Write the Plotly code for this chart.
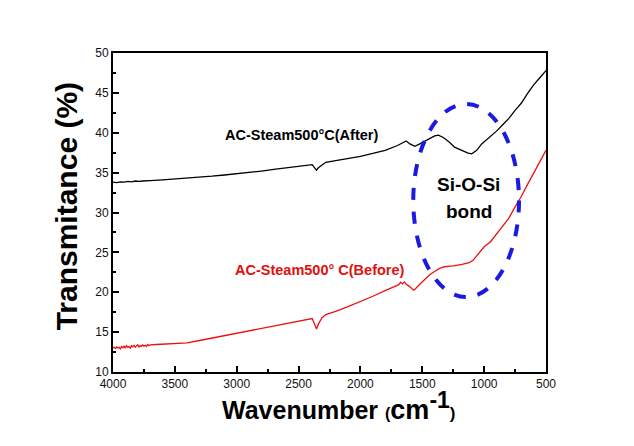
import plotly.graph_objects as go

# ---- data ----
wn_after = [4000, 3970, 3940, 3910, 3880, 3850, 3820, 3790, 3760, 3730, 3700, 3600, 3500, 3400, 3300,
            3200, 3100, 3000, 2900, 2800, 2700, 2600, 2500, 2420, 2390, 2370, 2355, 2340, 2310,
            2280, 2200, 2100, 2000, 1900, 1800, 1700, 1660, 1630, 1600, 1560, 1520, 1460, 1400,
            1370, 1330, 1280, 1240, 1180, 1130, 1100, 1060, 1020, 980, 940, 900, 850, 800, 750,
            700, 650, 600, 550, 500]
tr_after = [33.8, 33.75, 33.85, 33.8, 33.9, 33.85, 33.95, 33.9, 33.95, 34.0, 34.0, 34.1, 34.2, 34.3, 34.45,
            34.55, 34.7, 34.85, 35.0, 35.2, 35.4, 35.6, 35.8, 35.95, 36.0, 35.6, 35.3, 35.6, 36.0,
            36.3, 36.5, 36.75, 37.05, 37.4, 37.8, 38.4, 38.75, 38.97, 38.6, 38.3, 38.6, 39.1, 39.6,
            39.7, 39.4, 38.8, 38.2, 37.8, 37.45, 37.35, 37.8, 38.6, 39.1, 39.6, 40.2, 41.0, 41.8, 42.8,
            43.7, 44.9, 46.0, 46.9, 47.8]

wn_before = [4000, 3990, 3980, 3970, 3960, 3950, 3940, 3930, 3920, 3910, 3900, 3890, 3880, 3870, 3860,
             3850, 3840, 3830, 3820, 3810, 3800, 3790, 3780, 3770, 3760, 3750, 3740, 3730, 3720,
             3710, 3700, 3650, 3600, 3500, 3400, 3300, 3200, 3100, 3000, 2900, 2800, 2700, 2600, 2500,
             2420, 2390, 2370, 2355, 2340, 2310, 2280, 2200, 2100, 2000, 1900, 1800, 1720, 1690,
             1675, 1660, 1645, 1630, 1610, 1590, 1570, 1555, 1540, 1520, 1480, 1440, 1400, 1360, 1320,
             1250, 1180, 1120, 1090, 1050, 1000, 950, 900, 850, 800, 750, 700, 650, 600, 550, 500]
tr_before = [13.05, 13.1, 12.95, 13.15, 13.0, 13.1, 12.9, 13.2, 13.05, 13.25, 13.0, 13.3, 13.1, 13.2,
             12.95, 13.3, 13.15, 13.35, 13.1, 13.25, 13.4, 13.15, 13.3, 13.2, 13.4, 13.25, 13.35, 13.2,
             13.45, 13.3, 13.4, 13.45, 13.5, 13.55, 13.65, 13.95, 14.25, 14.55, 14.8, 15.1, 15.4, 15.7,
             16.0, 16.3, 16.6, 16.7, 16.0, 15.4, 16.0, 16.8, 17.2, 17.6, 18.2, 18.8, 19.5, 20.2, 20.7,
             20.95, 21.25, 21.05, 21.3, 21.0, 20.8, 20.5, 20.25, 20.45, 20.75, 21.0, 21.6, 22.2, 22.6,
             23.0, 23.2, 23.3, 23.5, 23.7, 24.0, 24.8, 25.7, 26.3, 27.3, 28.3, 29.3, 30.7, 32.0, 33.5,
             35.0, 36.5, 37.8]

x_ticks = [4000, 3500, 3000, 2500, 2000, 1500, 1000, 500]
y_ticks = [10, 15, 20, 25, 30, 35, 40, 45, 50]

label_after = "AC-Steam500°C(After)"
label_before = "AC-Steam500° C(Before)"

FONT = "Liberation Sans, Arial, sans-serif"

fig = go.Figure()
fig.add_trace(go.Scatter(x=wn_after, y=tr_after, mode="lines",
                         line=dict(color="#000000", width=1.3), showlegend=False))
fig.add_trace(go.Scatter(x=wn_before, y=tr_before, mode="lines",
                         line=dict(color="#ee1111", width=1.3), showlegend=False))

# dashed ellipse marking the Si-O-Si region
fig.add_shape(type="circle", xref="x", yref="y", x0=1573, x1=718, y0=19.4, y1=43.6,
              line=dict(color="#1a1ae0", width=4, dash="dash"))

fig.add_annotation(x=2478, y=39.7, xref="x", yref="y", text="<b>" + label_after + "</b>",
                   showarrow=False, xanchor="center", yanchor="middle",
                   font=dict(family=FONT, size=14.5, color="#000000"))
fig.add_annotation(x=2324, y=22.8, xref="x", yref="y", text="<b>" + label_before + "</b>",
                   showarrow=False, xanchor="center", yanchor="middle",
                   font=dict(family=FONT, size=14.5, color="#e01010"))
fig.add_annotation(x=1125, y=33.55, xref="x", yref="y", text="<b>Si-O-Si</b>",
                   showarrow=False, xanchor="center", yanchor="middle",
                   font=dict(family=FONT, size=19, color="#000000"))
fig.add_annotation(x=1125, y=30.16, xref="x", yref="y", text="<b>bond</b>",
                   showarrow=False, xanchor="center", yanchor="middle",
                   font=dict(family=FONT, size=19, color="#000000"))

# axis titles
fig.add_annotation(x=-0.108, y=0.52, xref="paper", yref="paper", textangle=-90,
                   xanchor="center", yanchor="middle",
                   text="<b>Transmitance (%)</b>", showarrow=False,
                   font=dict(family=FONT, size=30, color="#000000"))
fig.add_annotation(x=0.522, y=-0.172, xref="paper", yref="paper",
                   xanchor="center", yanchor="bottom",
                   text="<b>Wavenumber <span style='font-size:16px'>(</span>"
                        "<span style='font-size:27px'>cm</span>"
                        "<sup><span style='font-size:23px'>-1</span></sup>"
                        "<span style='font-size:17px'>)</span></b>",
                   showarrow=False, font=dict(family=FONT, size=25, color="#000000"))

axis_common = dict(showgrid=False, zeroline=False, showline=True, linecolor="#000000",
                   linewidth=2, mirror=True, ticks="inside", ticklen=6, tickwidth=1.5,
                   tickcolor="#000000", tickfont=dict(family=FONT, size=12, color="#111111"))

fig.update_xaxes(range=[4000, 500], tickvals=x_ticks, ticktext=[str(v) for v in x_ticks],
                 minor=dict(dtick=250, ticks="inside", ticklen=3, tickcolor="#000000", tickwidth=1.5),
                 **axis_common)
fig.update_yaxes(range=[10, 50], tickvals=y_ticks, ticktext=[str(v) for v in y_ticks],
                 minor=dict(dtick=2.5, ticks="inside", ticklen=3, tickcolor="#000000", tickwidth=1.5),
                 **axis_common)

fig.update_layout(width=626, height=438, margin=dict(l=105, r=88, t=45, b=74),
                  paper_bgcolor="#ffffff", plot_bgcolor="#ffffff")

fig.write_html("out.html")
